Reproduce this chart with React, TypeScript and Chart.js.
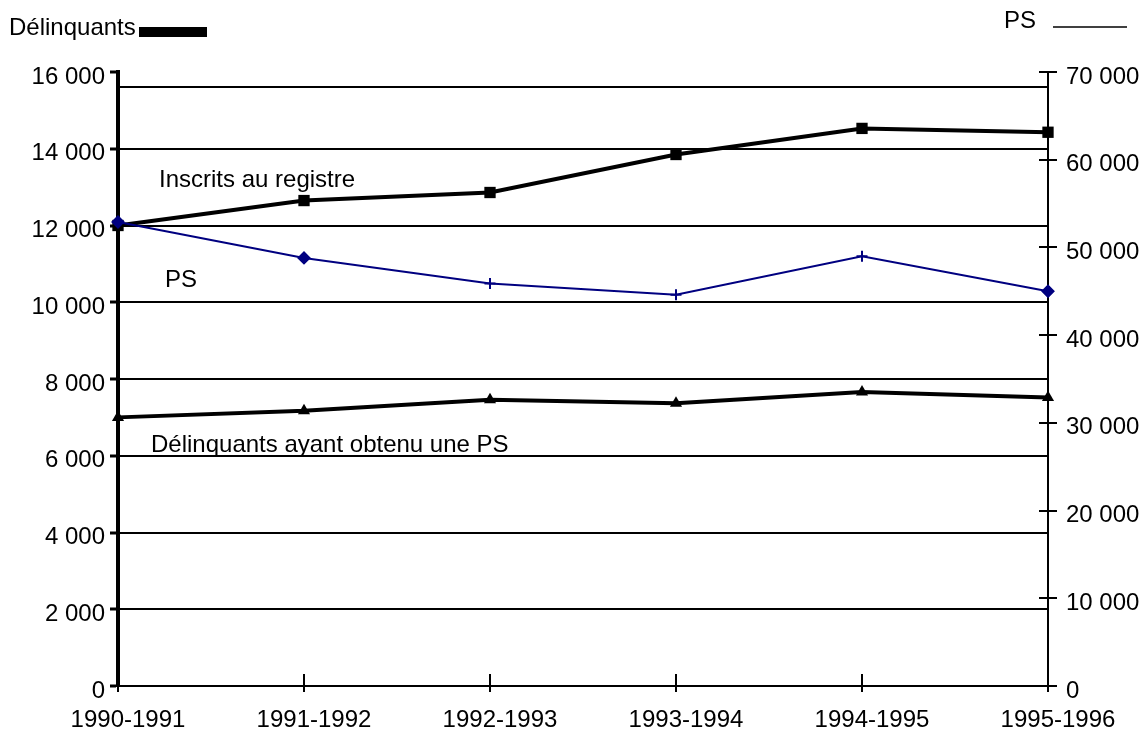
import React, { useEffect, useRef } from "react";
import { Chart, registerables } from "chart.js";

Chart.register(...registerables);

const categories = ["1990-1991", "1991-1992", "1992-1993", "1993-1994", "1994-1995", "1995-1996"];
const inscrits = [12000, 12650, 12860, 13850, 14530, 14430];
const psValues = [52900, 48800, 45900, 44600, 49000, 45000];
const delinquantsPS = [7000, 7170, 7460, 7370, 7660, 7520];
const psPointStyles = ["rectRot", "rectRot", "cross", "cross", "cross", "rectRot"];
const leftTicks = [0, 2000, 4000, 6000, 8000, 10000, 12000, 14000, 16000];
const rightTicks = [0, 10000, 20000, 30000, 40000, 50000, 60000, 70000];
const extraGridValue = 15600;

const FONT = '24px "Liberation Sans", Arial, sans-serif';
const SX = 1.0;

function fmt(v: number): string {
  return String(v).replace(/\B(?=(\d{3})+(?!\d))/g, " ");
}

function drawText(ctx: CanvasRenderingContext2D, text: string, x: number, y: number, align: "left" | "right" | "center") {
  ctx.save();
  ctx.font = FONT;
  ctx.fillStyle = "#000";
  const w = ctx.measureText(text).width * SX;
  const left = align === "right" ? x - w : align === "center" ? x - w / 2 : x;
  ctx.translate(left, y);
  ctx.scale(SX, 1);
  ctx.textAlign = "left";
  ctx.textBaseline = "alphabetic";
  ctx.fillText(text, 0, 0);
  ctx.restore();
}

const decorPlugin = {
  id: "decor",
  afterDraw(chart: any) {
    const ctx: CanvasRenderingContext2D = chart.ctx;
    const x = chart.scales.x;
    const y = chart.scales.y;
    const y1 = chart.scales.y1;
    const area = chart.chartArea;
    ctx.save();
    ctx.strokeStyle = "#000";
    ctx.lineWidth = 2;
    categories.forEach((_, i) => {
      const px = Math.round(x.getPixelForValue(i));
      ctx.beginPath();
      ctx.moveTo(px, area.bottom - 12);
      ctx.lineTo(px, area.bottom + 6);
      ctx.stroke();
    });
    ctx.lineWidth = 2;
    rightTicks.forEach((v) => {
      const py = Math.round(y1.getPixelForValue(v));
      ctx.beginPath();
      ctx.moveTo(area.right - 9, py);
      ctx.lineTo(area.right + 9, py);
      ctx.stroke();
    });
    ctx.restore();

    leftTicks.forEach((v) => {
      drawText(ctx, fmt(v), 105, y.getPixelForValue(v) + 11.5, "right");
    });
    rightTicks.forEach((v) => {
      drawText(ctx, fmt(v), area.right + 18, y1.getPixelForValue(v) + 11.5, "left");
    });
    categories.forEach((c, i) => {
      drawText(ctx, c, x.getPixelForValue(i) + 10, 727, "center");
    });

    drawText(ctx, "Inscrits au registre", 159, 187, "left");
    drawText(ctx, "PS", 165, 287, "left");
    drawText(ctx, "Délinquants ayant obtenu une PS", 151, 452, "left");

    drawText(ctx, "Délinquants", 9, 35, "left");
    ctx.save();
    ctx.fillStyle = "#000";
    ctx.fillRect(139, 27, 68, 10);
    ctx.restore();
    drawText(ctx, "PS", 1004, 28, "left");
    ctx.save();
    ctx.strokeStyle = "#000";
    ctx.lineWidth = 1.5;
    ctx.beginPath();
    ctx.moveTo(1053, 27);
    ctx.lineTo(1127, 27);
    ctx.stroke();
    ctx.restore();
  },
};

export default function App() {
  const ref = useRef<HTMLCanvasElement | null>(null);
  useEffect(() => {
    document.body.style.margin = "0";
    const canvas = ref.current;
    if (!canvas) return;
    const chart = new Chart(canvas, {
      type: "line",
      data: {
        labels: categories,
        datasets: [
          {
            label: "PS",
            data: psValues,
            yAxisID: "y1",
            borderColor: "#000080",
            backgroundColor: "#000080",
            borderWidth: 2,
            pointStyle: psPointStyles as any,
            pointRadius: 5.5,
            pointBorderWidth: 2,
            pointBorderColor: "#000080",
            pointBackgroundColor: "#000080",
            tension: 0,
          },
          {
            label: "Inscrits au registre",
            data: inscrits,
            yAxisID: "y",
            borderColor: "#000",
            backgroundColor: "#000",
            borderWidth: 4,
            pointStyle: "rect",
            pointRadius: 8,
            pointBorderWidth: 0,
            pointBackgroundColor: "#000",
            tension: 0,
          },
          {
            label: "Délinquants ayant obtenu une PS",
            data: delinquantsPS,
            yAxisID: "y",
            borderColor: "#000",
            backgroundColor: "#000",
            borderWidth: 4,
            pointStyle: "triangle",
            pointRadius: 7,
            pointBorderWidth: 0,
            pointBackgroundColor: "#000",
            tension: 0,
          },
        ],
      },
      options: {
        animation: false,
        responsive: false,
        devicePixelRatio: 1,
        layout: { padding: { top: 72, left: 0, right: 0, bottom: 0 } },
        plugins: {
          legend: { display: false },
          tooltip: { enabled: false },
        },
        scales: {
          x: {
            type: "category",
            offset: false,
            ticks: { display: false },
            grid: { display: false },
            border: { display: false },
            afterFit: (s: any) => {
              s.height = 44;
            },
          },
          y: {
            position: "left",
            min: 0,
            max: 16000,
            afterBuildTicks: (s: any) => {
              const vals = leftTicks.slice(0, -1).concat([extraGridValue, leftTicks[leftTicks.length - 1]]);
              s.ticks = vals.map((v) => ({ value: v }));
            },
            ticks: { display: false },
            grid: {
              color: (c: any) => (c.tick && c.tick.value === 16000 ? "rgba(0,0,0,0)" : "#000"),
              lineWidth: 2,
              drawTicks: true,
              tickLength: 8,
              tickWidth: 3,
              tickColor: (c: any) => (c.tick && c.tick.value === extraGridValue ? "rgba(0,0,0,0)" : "#000"),
            },
            border: { display: true, color: "#000", width: 4 },
            afterFit: (s: any) => {
              s.width = 118;
            },
          },
          y1: {
            position: "right",
            min: 0,
            max: 70000,
            ticks: { display: false, stepSize: 10000 },
            grid: { drawOnChartArea: false, drawTicks: false },
            border: { display: true, color: "#000", width: 2 },
            afterFit: (s: any) => {
              s.width = 98;
            },
          },
        },
      },
      plugins: [decorPlugin],
    });
    return () => chart.destroy();
  }, []);
  return (
    <div style={{ width: 1146, height: 730, background: "#fff" }}>
      <canvas ref={ref} width={1146} height={730} style={{ display: "block" }} />
    </div>
  );
}
